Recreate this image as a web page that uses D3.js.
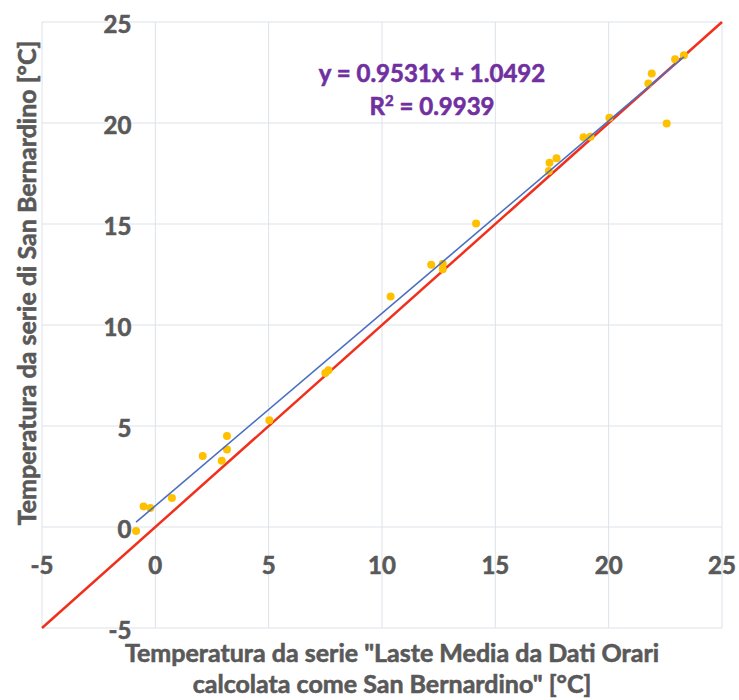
<!DOCTYPE html>
<html>
<head>
<meta charset="utf-8">
<script src="https://cdn.jsdelivr.net/npm/d3@7"></script>
<style>
  html, body { margin: 0; padding: 0; background: #ffffff; }
  svg { display: block; }
</style>
</head>
<body>
<svg id="chart" width="739" height="700"></svg>
<script>
// Monthly mean temperatures: Laste series (x) vs San Bernardino series (y), °C
const lasteTemp = [-0.85, -0.52, -0.22, 0.73, 2.09, 2.93, 3.16, 3.16, 5.03, 7.50, 7.64,
  10.38, 12.17, 12.68, 12.68, 14.15, 17.36, 17.39, 17.70, 18.89, 19.20, 20.03,
  21.75, 21.90, 22.56, 22.93, 23.32];
const sanBernardinoTemp = [-0.20, 1.02, 0.94, 1.43, 3.52, 3.28, 4.50, 3.84, 5.29, 7.62, 7.76,
  11.41, 12.98, 13.03, 12.76, 15.02, 17.62, 18.03, 18.25, 19.30, 19.32, 20.26,
  21.95, 22.45, 19.98, 23.16, 23.35];

// Linear trend line coefficients and fit quality
const trendSlope = 0.9531;
const trendIntercept = 1.0492;
const trendR2 = 0.9939;

// Axis ticks
const xTicks = [-5, 0, 5, 10, 15, 20, 25];
const yTicks = [-5, 0, 5, 10, 15, 20, 25];
const axisDomain = [-5, 25];

const svg = d3.select("#chart");
const plotLeft = 42, plotRight = 722, plotTop = 22, plotBottom = 628;

const x = d3.scaleLinear().domain(axisDomain).range([plotLeft, plotRight]);
const y = d3.scaleLinear().domain(axisDomain).range([plotBottom, plotTop]);

const textColor = "#595959";
const font = "Lato, 'Open Sans', sans-serif";

// Bold text with a thin outline of the same colour for a heavier look
function heavy(sel, color) {
  return sel.attr("font-family", font).attr("font-weight", "bold")
    .attr("fill", color).attr("stroke", color).attr("stroke-width", 0.6);
}

// Gridlines
const grid = svg.append("g");
grid.selectAll("line.v").data(xTicks).enter().append("line")
  .attr("class", "v")
  .attr("x1", d => x(d)).attr("x2", d => x(d))
  .attr("y1", plotTop).attr("y2", plotBottom)
  .attr("stroke", "#dde2e8").attr("stroke-width", 1);
grid.selectAll("line.h").data(yTicks).enter().append("line")
  .attr("class", "h")
  .attr("x1", plotLeft).attr("x2", plotRight)
  .attr("y1", d => y(d)).attr("y2", d => y(d))
  .attr("stroke", "#dde2e8").attr("stroke-width", 1);

// Tick labels: x labels sit below the y=0 axis, y labels left of the x=0 axis
heavy(svg.append("g"), textColor).attr("font-size", 24)
  .selectAll("text").data(xTicks).enter().append("text")
  .attr("x", d => x(d)).attr("y", y(0) + 37)
  .attr("text-anchor", "middle").attr("dominant-baseline", "central")
  .text(d => d);
heavy(svg.append("g"), textColor).attr("font-size", 24)
  .selectAll("text").data(yTicks).enter().append("text")
  .attr("x", x(0) - 24).attr("y", d => y(d) + 1)
  .attr("text-anchor", "end").attr("dominant-baseline", "central")
  .text(d => d);

// 1:1 reference line
svg.append("line")
  .attr("x1", x(axisDomain[0])).attr("y1", y(axisDomain[0]))
  .attr("x2", x(axisDomain[1])).attr("y2", y(axisDomain[1]))
  .attr("stroke", "#f0301c").attr("stroke-width", 2.5);

// Data points
svg.append("g").selectAll("circle").data(lasteTemp).enter().append("circle")
  .attr("cx", d => x(d)).attr("cy", (d, i) => y(sanBernardinoTemp[i]))
  .attr("r", 4).attr("fill", "#ffc000");

// Linear trend line across the data range
const xMin = d3.min(lasteTemp), xMax = d3.max(lasteTemp);
svg.append("line")
  .attr("x1", x(xMin)).attr("y1", y(trendSlope * xMin + trendIntercept))
  .attr("x2", x(xMax)).attr("y2", y(trendSlope * xMax + trendIntercept))
  .attr("stroke", "#4a6fc0").attr("stroke-width", 1.6);

// Trend equation
const eq = heavy(svg.append("g"), "#7030a0")
  .attr("font-size", 24).attr("text-anchor", "middle");
eq.append("text").attr("x", 432).attr("y", 82)
  .text(`y = ${trendSlope.toFixed(4)}x + ${trendIntercept.toFixed(4)}`);
const r2 = eq.append("text").attr("x", 432).attr("y", 115);
r2.append("tspan").text("R");
r2.append("tspan").attr("font-size", 15).attr("dy", -9).text("2");
r2.append("tspan").attr("dy", 9).text(` = ${trendR2.toFixed(4)}`);

// Axis titles
const titles = heavy(svg.append("g"), textColor)
  .attr("font-size", 25).attr("text-anchor", "middle");
titles.append("text").attr("x", 392).attr("y", 662)
  .text('Temperatura da serie "Laste Media da Dati Orari');
titles.append("text").attr("x", 392).attr("y", 693)
  .text('calcolata come San Bernardino" [°C]');
titles.append("text")
  .attr("transform", "translate(36,283) rotate(-90)")
  .text("Temperatura da serie di San Bernardino [°C]");
</script>
</body>
</html>
